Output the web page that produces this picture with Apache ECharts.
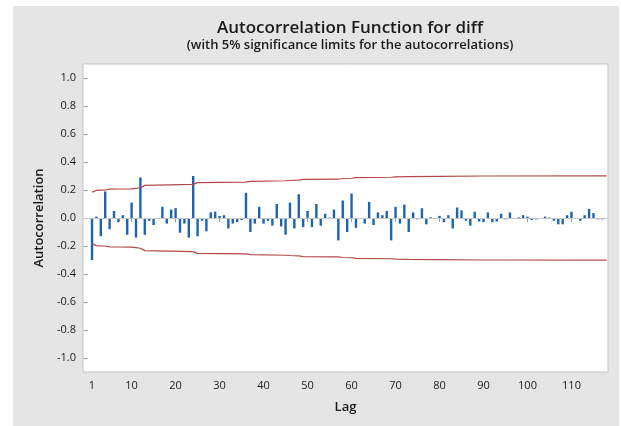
<!DOCTYPE html>
<html>
<head>
<meta charset="utf-8">
<script src="https://cdn.jsdelivr.net/npm/echarts@6/dist/echarts.min.js"></script>
<style>
html,body{margin:0;padding:0;background:#ffffff;}
#chart{width:621px;height:426px;}
</style>
</head>
<body>
<div id="chart"></div>
<script>
// ACF values for lags 1..118
var acfValues = [
  -0.30, 0.01, -0.13, 0.19, -0.08, 0.05, -0.03, 0.02, -0.12, 0.11,
  -0.14, 0.29, -0.12, -0.02, -0.05, -0.005, 0.08, -0.04, 0.06, 0.07,
  -0.105, -0.04, -0.14, 0.30, -0.13, -0.02, -0.095, 0.04, 0.045, 0.015,
  0.02, -0.075, -0.04, -0.03, -0.015, 0.18, -0.10, -0.04, 0.08, -0.04,
  -0.02, -0.055, 0.10, -0.06, -0.12, 0.11, -0.075, 0.17, -0.065, 0.05,
  -0.065, 0.10, -0.055, 0.03, 0.003, 0.06, -0.16, 0.125, -0.10, 0.175,
  -0.07, -0.005, -0.04, 0.115, -0.05, 0.04, 0.02, 0.05, -0.16, 0.08,
  -0.04, 0.095, -0.10, 0.04, -0.01, 0.07, -0.045, 0.005, 0.0, 0.015,
  -0.03, 0.02, -0.075, 0.075, 0.055, -0.02, -0.055, 0.045, -0.025, -0.03,
  0.04, -0.03, -0.025, 0.03, -0.01, 0.04, 0.0, 0.005, 0.02, 0.01,
  -0.015, -0.01, 0.0, 0.01, 0.003, -0.02, -0.045, -0.045, 0.02, 0.045,
  0.0, -0.02, 0.02, 0.065, 0.035, -0.01, -0.01, 0.0
];
var firstLag = 1;

// 5% significance limits (read at selected lags; lower limit is the mirror)
var limitLags   = [1, 2, 3, 4, 5, 7, 10, 11, 12, 13, 24, 25, 36, 37, 45, 46, 48, 49, 57, 58, 60, 61, 69, 70, 73, 80, 90, 118];
var limitValues = [0.184, 0.197, 0.199, 0.200, 0.206, 0.207, 0.208, 0.212, 0.216, 0.233, 0.240, 0.253, 0.256, 0.262, 0.266, 0.268, 0.270, 0.276, 0.277, 0.282, 0.284, 0.289, 0.291, 0.294, 0.296, 0.298, 0.300, 0.301];

var xTickLabels = [1, 10, 20, 30, 40, 50, 60, 70, 80, 90, 100, 110];
var yTickLabels = [-1.0, -0.8, -0.6, -0.4, -0.2, 0.0, 0.2, 0.4, 0.6, 0.8, 1.0];

var titleText = 'Autocorrelation Function for diff';
var subtitleText = '(with 5% significance limits for the autocorrelations)';

var barData = acfValues.map(function (v, i) { return [firstLag + i, v]; });
var upperData = limitLags.map(function (l, i) { return [l, limitValues[i]]; });
var lowerData = limitLags.map(function (l, i) { return [l, -limitValues[i]]; });

var font = '"Open Sans", "Noto Sans", sans-serif';
var chart = echarts.init(document.getElementById('chart'), null, {renderer: 'canvas'});
chart.setOption({
  animation: false,
  backgroundColor: '#ffffff',
  graphic: [{
    type: 'rect', z: -10, silent: true,
    shape: {x: 13, y: 6, width: 606, height: 420},
    style: {fill: '#e5e5e5'}
  }],
  title: {
    text: titleText,
    subtext: subtitleText,
    left: 345, textAlign: 'center', top: 15, itemGap: 2,
    textStyle: {fontFamily: font, fontSize: 17, fontWeight: 600, color: '#1a1a1a'},
    subtextStyle: {fontFamily: font, fontSize: 13, fontWeight: 600, color: '#1a1a1a'}
  },
  grid: {
    left: 83, right: 13, top: 64, bottom: 54,
    show: true, backgroundColor: '#ffffff', borderColor: '#c4c4c4', borderWidth: 1
  },
  xAxis: {
    type: 'value', min: -1.05, max: 118.3,
    name: 'Lag', nameLocation: 'middle', nameGap: 29,
    nameTextStyle: {fontFamily: font, fontSize: 13, fontWeight: 600, color: '#1a1a1a'},
    axisLine: {show: false},
    splitLine: {show: false},
    axisTick: {show: true, customValues: xTickLabels, length: 4, lineStyle: {color: '#9a9a9a'}},
    axisLabel: {customValues: xTickLabels, fontFamily: font, fontSize: 11, fontWeight: 500, color: '#1a1a1a', margin: 8}
  },
  yAxis: {
    type: 'value', min: -1.1, max: 1.1,
    name: 'Autocorrelation', nameLocation: 'middle', nameGap: 32, nameRotate: 90,
    nameTextStyle: {fontFamily: font, fontSize: 13, fontWeight: 600, color: '#1a1a1a'},
    axisLine: {show: false},
    splitLine: {show: false},
    axisTick: {show: true, customValues: yTickLabels, length: 4, lineStyle: {color: '#9a9a9a'}},
    axisLabel: {
      customValues: yTickLabels, fontFamily: font, fontSize: 11, fontWeight: 500, color: '#1a1a1a', margin: 7,
      formatter: function (v) { return (Math.abs(v) < 1e-9 ? 0 : v).toFixed(1); }
    }
  },
  series: [
    {
      type: 'line', data: [], silent: true,
      markLine: {
        silent: true, symbol: 'none', label: {show: false},
        lineStyle: {color: '#c8c8c8', width: 1, type: 'solid'},
        data: [{yAxis: 0}]
      }
    },
    {
      type: 'bar', data: barData, barWidth: 2.4,
      itemStyle: {color: '#1f63b0'}, z: 3
    },
    {
      type: 'line', data: upperData, showSymbol: false, symbol: 'none',
      lineStyle: {color: '#b34848', width: 1.2}, z: 4
    },
    {
      type: 'line', data: lowerData, showSymbol: false, symbol: 'none',
      lineStyle: {color: '#b34848', width: 1.2}, z: 4
    }
  ]
});
</script>
</body>
</html>
